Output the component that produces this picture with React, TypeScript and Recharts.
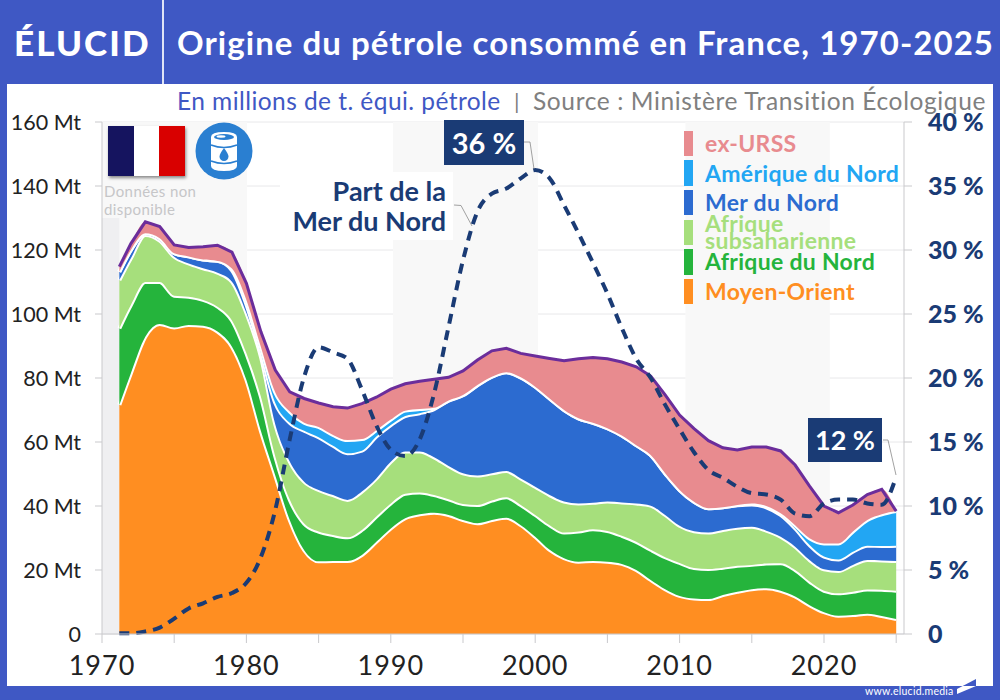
import React from "react";
import {
  ComposedChart, Area, Line, XAxis, YAxis, CartesianGrid, ReferenceArea,
} from "recharts";

const years = [1971.2, 1972, 1973, 1974, 1975, 1976, 1977, 1978, 1979, 1980, 1981, 1982, 1983, 1984, 1985, 1986, 1987, 1988, 1989, 1990, 1991, 1992, 1993, 1994, 1995, 1996, 1997, 1998, 1999, 2000, 2001, 2002, 2003, 2004, 2005, 2006, 2007, 2008, 2009, 2010, 2011, 2012, 2013, 2014, 2015, 2016, 2017, 2018, 2019, 2020, 2021, 2022, 2023, 2024, 2025];
const moyenOrient = [71.6, 81.5, 92.9, 96.9, 95.8, 96.6, 96.3, 94.5, 89.8, 79.4, 63.5, 49.5, 35.6, 26.2, 22.7, 22.8, 22.8, 24.7, 28.8, 33, 36.2, 37.4, 37.9, 37.2, 35.6, 34.6, 35.6, 36.3, 34, 30.4, 26.3, 23.7, 22.6, 22.8, 22.6, 21.9, 20, 16.9, 14, 11.9, 11.1, 10.9, 12.2, 13.2, 14, 14.3, 13.5, 11.7, 9, 6.8, 5.7, 5.9, 6.3, 5.6, 4.7];
const afriqueNord = [23.9, 21.3, 17.1, 13.1, 9.9, 8.8, 8.1, 7.8, 8.2, 8.3, 10.7, 6, 6.4, 8.3, 9.3, 8.1, 7.4, 7.8, 7.9, 7.8, 7.6, 6.8, 5.5, 4.9, 5, 5.7, 6.1, 6.4, 6.3, 6.8, 7.7, 8, 9.4, 9.9, 9.6, 8.8, 8.8, 9.4, 10, 10.3, 9.5, 9.4, 8.5, 8.1, 7.6, 7.7, 8.6, 8.3, 7.4, 6.7, 7, 7.3, 7.6, 8.2, 8.8];
const afriqueSub = [15.1, 14.6, 14.7, 12.9, 12.2, 10.4, 9.9, 10.6, 12.1, 12.6, 12.5, 10, 11.9, 13.1, 13, 12.5, 11.7, 12, 11.9, 13, 13.2, 12.8, 11.8, 10.4, 9.6, 9.2, 8.5, 8.2, 8.3, 8.8, 9.4, 9.7, 8.8, 8.3, 9.2, 10.4, 12, 13.8, 13.2, 11.6, 11.5, 11.4, 11.8, 11.9, 11.9, 10.3, 8.3, 7.3, 6.7, 6.7, 7, 8.4, 9.2, 9.2, 9.3];
const merDuNord = [2.6, 2.6, 0.5, 0.8, 1.1, 2.2, 2.7, 3.7, 3.6, 2.7, 1.3, 6.7, 12.1, 15.9, 16.5, 15.4, 14.6, 12.8, 13.1, 11.5, 11.1, 12, 15.1, 20.4, 24.4, 28.2, 30.2, 30.9, 31.6, 31.3, 30.2, 28.6, 26.6, 25, 22.9, 20.9, 18.2, 15.8, 13, 11.2, 9.2, 7.6, 7.1, 7, 7, 7.3, 6.8, 5.7, 4.7, 4, 3.6, 4.1, 4.5, 4.5, 4.8];
const ameriqueNord = [0, 0, 0, 0, 0, 0, 0, 0, 0.5, 1.4, 1.8, 3.3, 3.5, 2.5, 3.2, 3.4, 4.1, 3.6, 2, 1.7, 1.7, 1.3, 0.4, 0.1, 0.1, 0.1, 0, 0, 0, 0, 0, 0, 0, 0, 0, 0, 0, 0, 0, 0, 0, 0, 0, 0.1, 0.3, 0.4, 0.5, 1, 2.1, 4.1, 5, 6.3, 8, 9.9, 10.8];
const exUrss = [1.6, 2, 3.6, 3.6, 2.6, 2.8, 4, 4.9, 5.1, 5.2, 4.7, 7, 6.2, 7.6, 7.5, 8.8, 10, 11.1, 10.3, 9.5, 8.4, 8.7, 8.9, 7.2, 7.5, 7.8, 8.1, 7.5, 7.5, 9.6, 12.5, 15.4, 18.6, 20.4, 21.7, 23, 24.5, 24.7, 24.5, 23.4, 22.9, 21.1, 18.6, 17.2, 17.6, 18.4, 19.5, 18.8, 16.3, 11.7, 9.6, 8.3, 8, 7.8, 0];
const partMerDuNord = [0.05, 0.05, 0.2, 0.5, 1.2, 2, 2.4, 2.9, 3.2, 4, 6, 9.7, 15.2, 20.1, 22.4, 22, 21.5, 19.1, 16.3, 14.4, 13.9, 15.2, 18.8, 24, 29.2, 33, 34.4, 34.8, 35.6, 36.25, 35.6, 33.5, 31.3, 29, 26.6, 23.9, 21.5, 20, 17.9, 16, 14.2, 12.8, 12.2, 11.5, 11, 10.9, 10.5, 9.4, 9.2, 10.2, 10.5, 10.5, 10.2, 10.1, 12.3];

const xTicks = [1970, 1975, 1980, 1985, 1990, 1995, 2000, 2005, 2010, 2015, 2020, 2025];
const mtTicks = [0, 20, 40, 60, 80, 100, 120, 140, 160];
const pctTicks = [0, 5, 10, 15, 20, 25, 30, 35, 40];
const greyBands = [[1970, 1980.05], [1990.15, 2000.2], [2010.4, 2020.4]];

const BLUE = "#3f58c4";
const NAVY = "#1a3b75";
const FONT = "Lato, sans-serif";

const legendItems = [
  { name: "ex-URSS", color: "#e88b8f" },
  { name: "Amérique du Nord", color: "#22a6f3" },
  { name: "Mer du Nord", color: "#2c6bd0" },
  { name: "Afrique subsaharienne", color: "#a6df7c" },
  { name: "Afrique du Nord", color: "#25b43c" },
  { name: "Moyen-Orient", color: "#ff8e21" },
];

const data = years.map((year, i) => ({
  year,
  moyenOrient: moyenOrient[i],
  afriqueNord: afriqueNord[i],
  afriqueSub: afriqueSub[i],
  merDuNord: merDuNord[i],
  ameriqueNord: ameriqueNord[i],
  exUrss: exUrss[i],
  total: moyenOrient[i] + afriqueNord[i] + afriqueSub[i] + merDuNord[i] + ameriqueNord[i] + exUrss[i],
  part: partMerDuNord[i],
}));

const abs = (left: number, top: number, extra: React.CSSProperties = {}): React.CSSProperties => ({
  position: "absolute", left, top, whiteSpace: "nowrap", ...extra,
});

function Stack(key: string, color: string) {
  return (
    <Area
      key={key}
      yAxisId="mt"
      type="monotone"
      dataKey={key}
      stackId="oil"
      fill={color}
      fillOpacity={1}
      stroke="#ffffff"
      strokeWidth={4}
      dot={false}
      activeDot={false}
      isAnimationActive={false}
    />
  );
}

export default function App() {
  return (
    <div style={{ position: "absolute", left: 0, top: 0, width: 1000, height: 700, background: BLUE, overflow: "hidden", fontFamily: FONT }}>
      {/* panel */}
      <div style={abs(7, 84, { width: 986, height: 602, background: "#fff" })} />
      <div style={abs(162, 0, { width: 1.5, height: 84, background: "#dfe4f6" })} />
      {/* header */}
      <div style={abs(14, 20, { color: "#fff", fontSize: 35, fontWeight: 900, letterSpacing: 2.1, lineHeight: "44px" })}>ÉLUCID</div>
      <div style={abs(177, 20, { color: "#fff", fontSize: 33, fontWeight: 700, letterSpacing: 1.05, lineHeight: "44px" })}>Origine du pétrole consommé en France, 1970-2025</div>
      <div style={abs(177, 86, { color: BLUE, fontSize: 24.5, lineHeight: "30px", letterSpacing: 0.44 })}>En millions de t. équi. pétrole</div>
      <div style={abs(514, 86, { color: "#808080", fontSize: 22, lineHeight: "30px" })}>|</div>
      <div style={abs(533, 86, { color: "#808080", fontSize: 24.5, lineHeight: "30px", letterSpacing: 0.62 })}>Source : Ministère Transition Écologique</div>

      <div style={abs(0, 0)}>
        <ComposedChart width={1000} height={700} data={data} margin={{ top: 122, right: 0, bottom: 0, left: 0 }}>
          {greyBands.map(([a, b]) => (
            <ReferenceArea key={a} yAxisId="mt" x1={a} x2={b} y1={0} y2={160} fill="#f8f8f8" fillOpacity={1} stroke="none" />
          ))}
          <ReferenceArea yAxisId="mt" x1={1970} x2={1971.2} y1={0} y2={130} fill="#efeff1" fillOpacity={1} stroke="none" />
          <CartesianGrid vertical={false} stroke="#e8e8ea" strokeWidth={1} yAxisId="mt" />
          <XAxis
            dataKey="year"
            type="number"
            domain={[1970, 2025.54]}
            ticks={xTicks}
            interval={0}
            height={66}
            tickFormatter={(v: number) => (v % 10 === 0 ? String(v) : "")}
            tick={{ fill: "#222222", fontSize: 27, letterSpacing: 1, fontFamily: FONT }}
            tickSize={9}
            tickMargin={13}
            axisLine={{ stroke: "#c9c9cc" }}
            tickLine={{ stroke: "#c9c9cc" }}
          />
          <YAxis
            yAxisId="mt"
            domain={[0, 160]}
            ticks={mtTicks}
            interval={0}
            width={102}
            tickFormatter={(v: number) => (v === 0 ? "0" : `${v} Mt`)}
            tick={{ fill: "#222222", fontSize: 21.5, fontFamily: FONT }}
            tickSize={7}
            tickMargin={14}
            axisLine={{ stroke: "#c9c9cc" }}
            tickLine={{ stroke: "#c9c9cc" }}
          />
          <YAxis
            yAxisId="pct"
            orientation="right"
            domain={[0, 40]}
            ticks={pctTicks}
            interval={0}
            width={96}
            tickFormatter={(v: number) => (v === 0 ? "0" : `${v} %`)}
            tick={{ fill: NAVY, fontSize: 25, fontWeight: 900, fontFamily: FONT, textAnchor: "start" }}
            tickSize={8}
            tickMargin={16}
            axisLine={{ stroke: "#c9c9cc" }}
            tickLine={{ stroke: "#c9c9cc" }}
          />
          {Stack("moyenOrient", legendItems[5].color)}
          {Stack("afriqueNord", legendItems[4].color)}
          {Stack("afriqueSub", legendItems[3].color)}
          {Stack("merDuNord", legendItems[2].color)}
          {Stack("ameriqueNord", legendItems[1].color)}
          <Area yAxisId="mt" type="monotone" dataKey="exUrss" stackId="oil" fill={legendItems[0].color} fillOpacity={1} stroke="none" dot={false} activeDot={false} isAnimationActive={false} />
          <Line yAxisId="mt" type="linear" dataKey="total" stroke="#6b2d9b" strokeWidth={3} dot={false} activeDot={false} isAnimationActive={false} />
          <Line yAxisId="pct" type="monotone" dataKey="part" stroke={NAVY} strokeWidth={4} strokeDasharray="10 7" dot={false} activeDot={false} isAnimationActive={false} />
        </ComposedChart>
      </div>

      {/* flag and barrel */}
      <div style={abs(108, 125.5, { width: 77, height: 50, display: "flex", boxShadow: "1px 2px 3px rgba(0,0,0,0.45)" })}>
        <div style={{ flex: 1, background: "#15145f" }} />
        <div style={{ flex: 1, background: "#fff" }} />
        <div style={{ flex: 1, background: "#d90000" }} />
      </div>
      <svg style={abs(195, 122)} width={58} height={58} viewBox="0 0 58 58">
        <circle cx={29} cy={29} r={28.5} fill="#2a7fd1" />
        <path d="M16 15 Q16 10 29 10 Q42 10 42 15 L42 44 Q42 49 29 49 Q16 49 16 44 Z" fill="#fff" />
        <ellipse cx={29} cy={15} rx={10} ry={3} fill="#2a7fd1" />
        <ellipse cx={26} cy={14.5} rx={4.5} ry={1.2} fill="#fff" />
        <path d="M16 23 Q29 28 42 23 M16 39 Q29 44 42 39" stroke="#2a7fd1" strokeWidth={1.4} fill="none" />
        <path d="M29 26 Q33.5 32 33.5 34.5 A4.5 4.5 0 0 1 24.5 34.5 Q24.5 32 29 26 Z" fill="#2a7fd1" />
      </svg>
      <div style={abs(104, 183, { color: "#c6c6c8", fontSize: 15, lineHeight: "17.5px", letterSpacing: 0.4 })}>Données non<br />disponible</div>

      {/* legend */}
      {legendItems.map((it, i) => (
        <React.Fragment key={it.name}>
          <div style={abs(684, 130.7 + i * 29.6, { width: 9, height: 25.5, background: it.color })} />
          <div style={abs(705, 130.7 + i * 29.6, { height: 25.5, display: "flex", alignItems: "center", color: it.color, fontSize: 23, fontWeight: 700, letterSpacing: 0.3, lineHeight: i === 3 ? "17px" : "25px", whiteSpace: i === 3 ? "normal" : "nowrap", width: i === 3 ? 180 : undefined })}>
            <span>{it.name}</span>
          </div>
        </React.Fragment>
      ))}

      {/* annotations */}
      <div style={abs(280, 172, { width: 173, height: 68, background: "#fff" })} />
      <div style={abs(200, 176, { width: 246, textAlign: "right", color: NAVY, fontSize: 27, fontWeight: 700, lineHeight: "30px" })}>Part de la<br />Mer du Nord</div>
      <div style={abs(444, 120, { width: 80, height: 45, background: NAVY, color: "#fff", fontSize: 29, fontWeight: 700, textAlign: "center", lineHeight: "45px" })}>36 %</div>
      <div style={abs(808, 418, { width: 74, height: 44, background: NAVY, color: "#fff", fontSize: 27, fontWeight: 700, textAlign: "center", lineHeight: "44px" })}>12 %</div>
      <svg style={abs(0, 0)} width={1000} height={700} fill="none" stroke="#8a8a8a" strokeWidth={0.8}>
        <polyline points="524,142 530,142 534,169" />
        <polyline points="454,205 461,205.5 472,226" />
        <polyline points="883,440 888,440 896,475" />
      </svg>

      {/* footer */}
      <div style={abs(865, 684, { color: "#fff", fontSize: 10.5, lineHeight: "14px", letterSpacing: 0.25 })}>www.elucid.media</div>
      <svg style={abs(0, 0)} width={1000} height={700}>
        <polygon points="962.7,686 976,679 976,686" fill={BLUE} />
        <polygon points="957,689 962.7,686 976,686 957,694" fill="#fff" />
      </svg>
    </div>
  );
}
